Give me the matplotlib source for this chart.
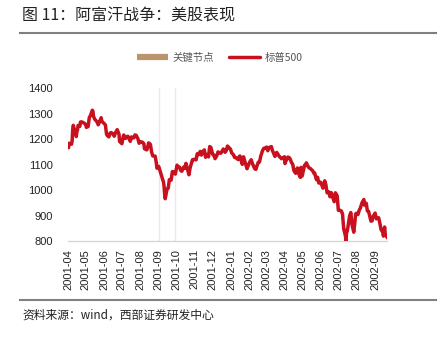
import numpy as np
import pandas as pd
import matplotlib
matplotlib.use("Agg")
import matplotlib.pyplot as plt
from matplotlib.lines import Line2D

plt.rcParams['font.family'] = ['Liberation Sans', 'Noto Sans CJK SC', 'DejaVu Sans']

# S&P 500 closes, Apr 2001 - Sep 2002
dates = [
    "2001-04-10", "2001-04-11", "2001-04-12", "2001-04-16", "2001-04-17", "2001-04-18",
    "2001-04-19", "2001-04-20", "2001-04-23", "2001-04-24", "2001-04-25", "2001-04-26",
    "2001-04-27", "2001-04-30", "2001-05-01", "2001-05-02", "2001-05-04", "2001-05-08",
    "2001-05-10", "2001-05-11", "2001-05-14", "2001-05-16", "2001-05-18", "2001-05-21",
    "2001-05-22", "2001-05-23", "2001-05-25", "2001-05-29", "2001-05-31", "2001-06-01",
    "2001-06-05", "2001-06-06", "2001-06-08", "2001-06-12", "2001-06-14", "2001-06-15",
    "2001-06-18", "2001-06-20", "2001-06-22", "2001-06-25", "2001-06-27", "2001-06-29",
    "2001-07-02", "2001-07-05", "2001-07-06", "2001-07-10", "2001-07-12", "2001-07-13",
    "2001-07-16", "2001-07-18", "2001-07-20", "2001-07-24", "2001-07-26", "2001-07-27",
    "2001-07-30", "2001-08-01", "2001-08-03", "2001-08-06", "2001-08-08", "2001-08-10",
    "2001-08-14", "2001-08-16", "2001-08-17", "2001-08-21", "2001-08-22", "2001-08-24",
    "2001-08-27", "2001-08-29", "2001-08-31", "2001-09-04", "2001-09-06", "2001-09-07",
    "2001-09-10", "2001-09-17", "2001-09-18", "2001-09-19", "2001-09-20", "2001-09-21",
    "2001-09-24", "2001-09-26", "2001-09-28", "2001-10-01", "2001-10-03", "2001-10-05",
    "2001-10-08", "2001-10-11", "2001-10-12", "2001-10-15", "2001-10-17", "2001-10-19",
    "2001-10-22", "2001-10-24", "2001-10-26", "2001-10-29", "2001-10-31", "2001-11-02",
    "2001-11-06", "2001-11-09", "2001-11-12", "2001-11-14", "2001-11-16", "2001-11-19",
    "2001-11-21", "2001-11-23", "2001-11-26", "2001-11-28", "2001-11-30", "2001-12-03",
    "2001-12-05", "2001-12-07", "2001-12-10", "2001-12-12", "2001-12-14", "2001-12-17",
    "2001-12-19", "2001-12-21", "2001-12-24", "2001-12-27", "2001-12-28", "2001-12-31",
    "2002-01-02", "2002-01-04", "2002-01-07", "2002-01-09", "2002-01-11", "2002-01-14",
    "2002-01-16", "2002-01-18", "2002-01-22", "2002-01-24", "2002-01-25", "2002-01-29",
    "2002-01-31", "2002-02-01", "2002-02-05", "2002-02-06", "2002-02-08", "2002-02-11",
    "2002-02-13", "2002-02-15", "2002-02-19", "2002-02-21", "2002-02-22", "2002-02-25",
    "2002-02-27", "2002-03-01", "2002-03-04", "2002-03-06", "2002-03-08", "2002-03-11",
    "2002-03-13", "2002-03-15", "2002-03-19", "2002-03-21", "2002-03-22", "2002-03-25",
    "2002-03-27", "2002-03-28", "2002-04-02", "2002-04-04", "2002-04-05", "2002-04-08",
    "2002-04-10", "2002-04-11", "2002-04-12", "2002-04-16", "2002-04-18", "2002-04-19",
    "2002-04-22", "2002-04-24", "2002-04-26", "2002-04-29", "2002-04-30", "2002-05-02",
    "2002-05-03", "2002-05-06", "2002-05-07", "2002-05-08", "2002-05-10", "2002-05-14",
    "2002-05-16", "2002-05-17", "2002-05-20", "2002-05-22", "2002-05-24", "2002-05-28",
    "2002-05-30", "2002-05-31", "2002-06-03", "2002-06-05", "2002-06-07", "2002-06-10",
    "2002-06-12", "2002-06-14", "2002-06-17", "2002-06-19", "2002-06-21", "2002-06-24",
    "2002-06-26", "2002-06-28", "2002-07-01", "2002-07-03", "2002-07-05", "2002-07-08",
    "2002-07-10", "2002-07-12", "2002-07-15", "2002-07-17", "2002-07-19", "2002-07-22",
    "2002-07-23", "2002-07-24", "2002-07-25", "2002-07-26", "2002-07-29", "2002-07-31",
    "2002-08-02", "2002-08-05", "2002-08-07", "2002-08-08", "2002-08-09", "2002-08-12",
    "2002-08-14", "2002-08-16", "2002-08-19", "2002-08-22", "2002-08-23", "2002-08-26",
    "2002-08-28", "2002-08-30", "2002-09-03", "2002-09-05", "2002-09-06", "2002-09-10",
    "2002-09-12", "2002-09-13", "2002-09-16", "2002-09-18", "2002-09-20", "2002-09-23",
    "2002-09-24", "2002-09-26", "2002-09-27", "2002-09-30",
]
spx = [
    1168.4, 1165.9, 1183.5, 1179.7, 1191.8, 1238.2,
    1253.7, 1243.0, 1224.4, 1209.5, 1228.8, 1234.5,
    1253.1, 1249.5, 1266.4, 1267.4, 1266.6, 1261.2,
    1255.5, 1245.7, 1248.9, 1285.0, 1292.0, 1312.8,
    1309.4, 1289.1, 1277.9, 1267.1, 1255.8, 1260.7,
    1283.6, 1270.0, 1265.0, 1255.9, 1219.9, 1214.4,
    1208.4, 1223.1, 1225.4, 1218.6, 1211.1, 1224.4,
    1236.7, 1219.2, 1190.6, 1181.5, 1208.1, 1215.7,
    1202.5, 1207.7, 1210.9, 1191.0, 1208.4, 1205.8,
    1204.5, 1215.9, 1214.4, 1200.5, 1183.4, 1190.2,
    1186.7, 1181.7, 1162.0, 1157.3, 1165.3, 1184.9,
    1179.2, 1148.6, 1133.6, 1132.9, 1106.4, 1085.8,
    1092.5, 1038.8, 1032.7, 1016.1, 984.5, 965.8,
    1003.5, 1007.0, 1040.9, 1038.6, 1072.3, 1071.4,
    1062.4, 1097.4, 1091.7, 1090.0, 1077.1, 1073.5,
    1089.9, 1084.8, 1104.6, 1078.3, 1059.8, 1087.2,
    1118.9, 1120.3, 1118.3, 1142.2, 1138.7, 1151.1,
    1137.0, 1150.3, 1157.4, 1128.5, 1139.5, 1129.9,
    1170.4, 1167.1, 1139.9, 1137.1, 1123.1, 1134.4,
    1149.6, 1144.9, 1144.7, 1157.1, 1161.0, 1148.1,
    1154.7, 1172.5, 1164.9, 1160.7, 1145.6, 1138.4,
    1127.6, 1127.6, 1119.3, 1132.2, 1133.3, 1100.6,
    1130.2, 1122.2, 1090.0, 1083.5, 1096.2, 1111.9,
    1118.5, 1104.2, 1083.3, 1081.0, 1089.8, 1109.4,
    1109.9, 1131.8, 1153.8, 1162.8, 1164.3, 1168.3,
    1154.1, 1166.2, 1170.3, 1153.6, 1148.7, 1131.9,
    1138.5, 1147.4, 1129.9, 1126.3, 1122.7, 1125.3,
    1130.5, 1103.7, 1111.0, 1129.4, 1124.5, 1125.2,
    1107.8, 1101.0, 1076.3, 1065.5, 1076.9, 1086.5,
    1073.4, 1052.7, 1049.5, 1088.9, 1055.0, 1097.3,
    1098.2, 1106.6, 1091.9, 1086.0, 1083.8, 1074.6,
    1064.7, 1067.1, 1040.7, 1049.9, 1027.5, 1030.7,
    1020.3, 1007.3, 1036.2, 1020.0, 989.1, 992.7,
    973.5, 989.8, 968.7, 954.0, 989.0, 977.0,
    920.5, 921.4, 917.9, 906.0, 847.8, 819.9,
    797.7, 843.4, 838.7, 852.8, 899.0, 911.6,
    864.2, 834.6, 876.8, 905.5, 908.6, 903.8,
    919.6, 928.8, 950.7, 962.7, 940.9, 948.0,
    917.9, 916.1, 878.0, 879.2, 893.9, 909.6,
    886.9, 889.8, 891.1, 869.5, 845.4, 833.7,
    819.3, 855.0, 827.4, 815.3,
]
# key events: 9/11 attack, start of US strikes on Afghanistan
events = ["2001-09-11", "2001-10-07"]
tick_months = pd.date_range("2001-04-01", "2002-09-01", freq="MS")

x = pd.to_datetime(dates)
cjk = ['Noto Sans CJK SC', 'DejaVu Sans']

fig = plt.figure(figsize=(4.4, 3.39), dpi=100)

# header / footer
fig.text(0.05, 0.952, "图 11：阿富汗战争：美股表现", fontsize=11.5, color="#222222",
         family=cjk, va="center", ha="left")
fig.add_artist(Line2D([0.045, 0.99], [0.903, 0.903], color="#808080", lw=1.5))
fig.add_artist(Line2D([0.045, 0.99], [0.114, 0.114], color="#808080", lw=1.5))
fig.text(0.05, 0.071, "资料来源：wind，西部证券研发中心", fontsize=8.5, color="#222222",
         family=cjk, va="center", ha="left")

ax = fig.add_axes([0.1545, 0.289, 0.725, 0.4514])

for d in events:
    ax.axvline(pd.Timestamp(d), color="#f0e8dd", lw=1.0, zorder=1)
ax.plot(x, spx, color="#c8101f", lw=2.5, zorder=3, solid_joinstyle="round")

ax.set_xlim(x[0], x[-1])
ax.set_ylim(800, 1400)
ax.set_yticks(np.arange(800, 1401, 100))

# month labels sit at about the 10th of each month
ticks = tick_months + pd.Timedelta(days=9)
ax.set_xticks(ticks)
ax.set_xticklabels([t.strftime("%Y-%m") for t in tick_months], rotation=90)
ax.tick_params(axis="both", length=0, labelsize=8, colors="#222222")
ax.tick_params(axis="y", pad=11)
ax.tick_params(axis="x", pad=6)

for s in ["top", "right", "left"]:
    ax.spines[s].set_visible(False)
ax.spines["bottom"].set_color("#cfd8e2")
ax.spines["bottom"].set_linewidth(1.0)

handles = [Line2D([], [], color="#b9946c", lw=4.5, solid_capstyle="butt"),
           Line2D([], [], color="#c8101f", lw=2.5, solid_capstyle="round")]
leg = fig.legend(handles, ["关键节点", "标普500"], loc="center", bbox_to_anchor=(0.499, 0.829),
                 ncol=2, frameon=False, handlelength=3.0, handletextpad=0.4,
                 columnspacing=1.5, prop={"family": cjk, "size": 7.5})
for t in leg.get_texts():
    t.set_color("#555555")

fig.savefig("out.png", dpi=100)
